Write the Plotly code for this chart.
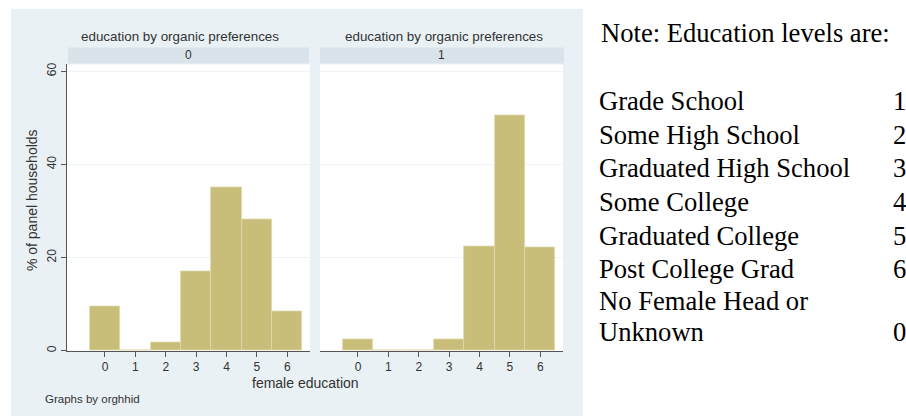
import plotly.graph_objects as go

# ---- data ----
categories = [0, 1, 2, 3, 4, 5, 6]
pct_org0 = [9.5, 0, 1.8, 17.0, 35.0, 28.1, 8.5]
pct_org1 = [2.4, 0, 0, 2.4, 22.4, 50.5, 22.2]
panel_labels = ["0", "1"]
y_ticks = [0, 20, 40, 60]
y_tick_labels = ["0", "20", "40", "60"]
note_title = "Note: Education levels are:"
note_labels = ["Grade School", "Some High School", "Graduated High School",
               "Some College", "Graduated College", "Post College Grad",
               "No Female Head or", "Unknown"]
note_codes = ["1", "2", "3", "4", "5", "6", "", "0"]

W, H = 906, 420
def px(x):
    return x / W
def py(y):
    return 1 - y / H

BAR = "#C9BD7A"
BARLINE = "#E0D9AE"
AX = "#555555"
TXT = "#333333"
BG = "#EAF1F4"
STRIP = "#D8E4EA"
SANS = "Liberation Sans, Arial, sans-serif"
SERIF = "Liberation Serif, Times New Roman, serif"

fig = go.Figure()
fig.add_trace(go.Bar(x=categories, y=pct_org0, width=1, xaxis="x", yaxis="y",
                     marker=dict(color=BAR, line=dict(color=BARLINE, width=0.8)),
                     hoverinfo="x+y"))
fig.add_trace(go.Bar(x=categories, y=pct_org1, width=1, xaxis="x2", yaxis="y2",
                     marker=dict(color=BAR, line=dict(color=BARLINE, width=0.8)),
                     hoverinfo="x+y"))

ydom = [py(352), py(63)]
yrange = [0, 61.5]
xrange = [-1.25, 6.75]
xcommon = dict(range=xrange, tickvals=categories, ticktext=[str(c) for c in categories],
               ticks="outside", ticklen=5, tickcolor=AX, showline=True, linecolor=AX,
               linewidth=1, showgrid=False, zeroline=False,
               tickfont=dict(family=SANS, size=12, color=TXT), fixedrange=True)

shapes = [
    dict(type="rect", xref="paper", yref="paper", x0=px(11), x1=px(583), y0=py(418), y1=py(7),
         fillcolor=BG, line=dict(width=0), layer="below"),
    dict(type="rect", xref="paper", yref="paper", x0=px(67), x1=px(310), y0=py(352), y1=py(63),
         fillcolor="white", line=dict(width=0), layer="below"),
    dict(type="rect", xref="paper", yref="paper", x0=px(320), x1=px(563), y0=py(352), y1=py(63),
         fillcolor="white", line=dict(width=0), layer="below"),
    dict(type="rect", xref="paper", yref="paper", x0=px(68), x1=px(309), y0=py(62), y1=py(46),
         fillcolor=STRIP, line=dict(width=0), layer="below"),
    dict(type="rect", xref="paper", yref="paper", x0=px(320), x1=px(564), y0=py(62), y1=py(46),
         fillcolor=STRIP, line=dict(width=0), layer="below"),
]

annotations = []
for cx, lab in zip([179.5, 443.5], panel_labels):
    annotations.append(dict(text="education by organic preferences", x=px(cx), y=py(35),
                            xref="paper", yref="paper", showarrow=False, xanchor="center",
                            yanchor="middle", font=dict(family=SANS, size=13.4, color=TXT)))
for cx, lab in zip([188.5, 441.5], panel_labels):
    annotations.append(dict(text=lab, x=px(cx), y=py(54), xref="paper", yref="paper",
                            showarrow=False, xanchor="center", yanchor="middle",
                            font=dict(family=SANS, size=12, color=TXT)))
annotations.append(dict(text="% of panel households", x=px(32), y=py(200), xref="paper",
                        yref="paper", showarrow=False, textangle=-90, xanchor="center",
                        yanchor="middle", font=dict(family=SANS, size=14, color=TXT)))
annotations.append(dict(text="female education", x=px(305), y=py(385), xref="paper",
                        yref="paper", showarrow=False, xanchor="center", yanchor="middle",
                        font=dict(family=SANS, size=14, color=TXT)))
annotations.append(dict(text="Graphs by orghhid", x=px(43), y=py(401), xref="paper",
                        yref="paper", showarrow=False, xanchor="left", yanchor="middle",
                        font=dict(family=SANS, size=11.5, color=TXT)))

annotations.append(dict(text=note_title, x=px(599), y=py(31), xref="paper", yref="paper",
                        showarrow=False, xanchor="left", yanchor="middle",
                        font=dict(family=SERIF, size=26.6, color="black")))
line_y = [100, 134, 168, 202, 236, 270, 302, 333]
for yy, lab, code in zip(line_y, note_labels, note_codes):
    annotations.append(dict(text=lab, x=px(597), y=py(yy), xref="paper", yref="paper",
                            showarrow=False, xanchor="left", yanchor="middle",
                            font=dict(family=SERIF, size=26.6, color="black")))
    if code:
        annotations.append(dict(text=code, x=px(891), y=py(yy), xref="paper", yref="paper",
                                showarrow=False, xanchor="left", yanchor="middle",
                                font=dict(family=SERIF, size=26.6, color="black")))

fig.update_layout(
    width=W, height=H, margin=dict(l=0, r=0, t=0, b=0, pad=0),
    paper_bgcolor="white", plot_bgcolor="rgba(0,0,0,0)",
    showlegend=False, bargap=0,
    xaxis=dict(domain=[px(67), px(310)], anchor="y", **xcommon),
    xaxis2=dict(domain=[px(320), px(563)], anchor="y2", **xcommon),
    yaxis=dict(domain=ydom, range=yrange, anchor="x", tickvals=y_ticks, ticktext=y_tick_labels,
               ticks="outside", ticklen=5, tickcolor=AX, showline=True, linecolor=AX,
               linewidth=1, tickangle=-90, showgrid=True, gridcolor="#EEF3F5", gridwidth=1,
               zeroline=False, tickfont=dict(family=SANS, size=12, color=TXT), fixedrange=True),
    yaxis2=dict(domain=ydom, range=yrange, anchor="x2", tickvals=y_ticks, showticklabels=False,
                ticks="", showline=False, showgrid=True, gridcolor="#EEF3F5", gridwidth=1,
                zeroline=False, fixedrange=True),
    shapes=shapes, annotations=annotations,
)

fig.write_html("out.html", post_script="document.body.style.margin='0';",
               config={"displayModeBar": False})
